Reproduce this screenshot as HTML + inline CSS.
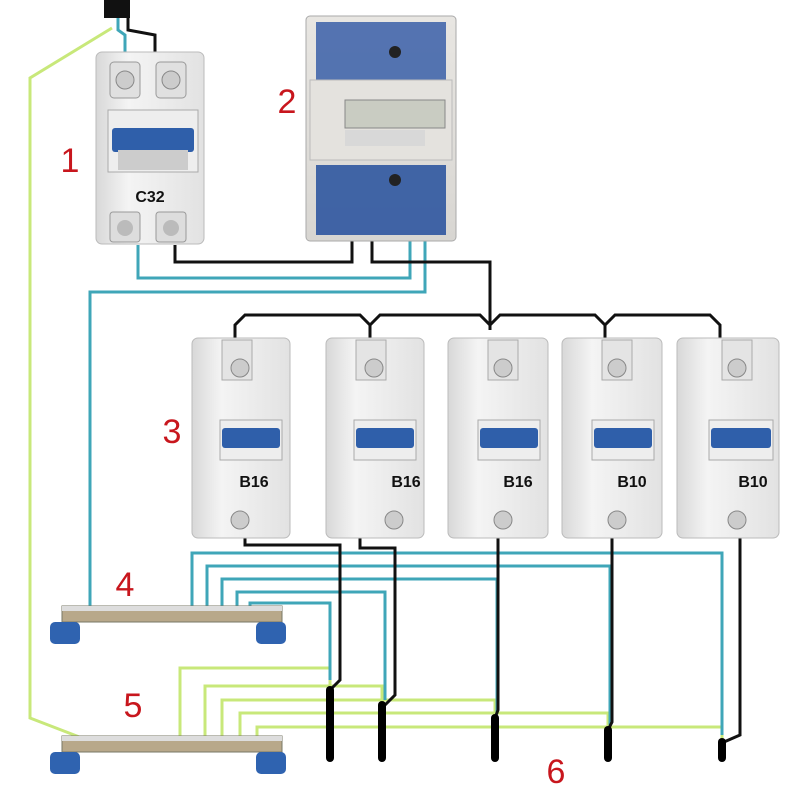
<!DOCTYPE html>
<html><head><meta charset="utf-8"><style>
html,body{margin:0;padding:0;background:#fff;}
svg{display:block;}
text{font-family:"Liberation Sans",sans-serif;}
</style></head><body>
<svg width="800" height="799" viewBox="0 0 800 799" xmlns="http://www.w3.org/2000/svg">
<defs>
<linearGradient id="brk" x1="0" x2="1"><stop offset="0" stop-color="#d8d8d8"/><stop offset="0.3" stop-color="#f4f4f4"/><stop offset="1" stop-color="#e2e2e2"/></linearGradient>
<linearGradient id="met" x1="0" x2="0" y1="0" y2="1"><stop offset="0" stop-color="#e8e6e2"/><stop offset="1" stop-color="#d8d6d2"/></linearGradient>
</defs>
<!-- green PE wire -->
<g fill="none" stroke="#c8e87a" stroke-width="3">
<path d="M112,28 L30,78 L30,718 L82,738"/>
<path d="M180,742 L180,668 L330,668 L330,690"/>
<path d="M205,742 L205,686 L382,686 L382,705"/>
<path d="M222,742 L222,700 L495,700 L495,718"/>
<path d="M240,742 L240,713 L608,713 L608,730"/>
<path d="M257,742 L257,727 L722,727 L722,741"/>
</g>
<!-- cyan N wires -->
<g fill="none" stroke="#3fa6b8" stroke-width="3">
<path d="M118,15 L118,30 L125,35 L125,55"/>
<path d="M138,245 L138,278 L410,278 L410,232"/>
<path d="M90,610 L90,292 L425,292 L425,232"/>
<path d="M192,610 L192,553 L722,553 L722,735"/>
<path d="M207,610 L207,566 L610,566 L610,725"/>
<path d="M222,610 L222,579 L497,579 L497,712"/>
<path d="M237,610 L237,592 L385,592 L385,700"/>
<path d="M250,610 L250,603 L330,603 L330,680"/>
</g>
<!-- black L wires -->
<g fill="none" stroke="#111" stroke-width="3">
<path d="M128,15 L128,30 L155,35 L155,55"/>
<path d="M175,245 L175,262 L352,262 L352,232"/>
<path d="M372,232 L372,262 L490,262 L490,330"/>
<path d="M235,338 L235,325 L245,315 L360,315 L370,325 L380,315 L480,315 L490,325 L500,315 L595,315 L605,325 L615,315 L710,315 L720,325 L720,338"/>
<path d="M370,325 L370,338 M605,325 L605,338"/>
<path d="M245,535 L245,545 L340,545 L340,680 L330,690"/>
<path d="M360,535 L360,548 L395,548 L395,695 L385,705"/>
<path d="M498,535 L498,710 L495,718"/>
<path d="M612,535 L612,722 L608,730"/>
<path d="M740,535 L740,735 L724,742"/>
</g>
<g stroke="#000" stroke-width="8" stroke-linecap="round">
<line x1="330" y1="690" x2="330" y2="758"/>
<line x1="382" y1="705" x2="382" y2="758"/>
<line x1="495" y1="718" x2="495" y2="758"/>
<line x1="608" y1="730" x2="608" y2="758"/>
<line x1="722" y1="742" x2="722" y2="758"/>
</g>
<rect x="104" y="0" width="26" height="18" fill="#111"/>
<!-- breaker 1 -->
<g>
<rect x="96" y="52" width="108" height="192" rx="6" fill="url(#brk)" stroke="#bbb"/>
<rect x="110" y="62" width="30" height="36" rx="4" fill="#e0e0e0" stroke="#999"/>
<rect x="156" y="62" width="30" height="36" rx="4" fill="#e0e0e0" stroke="#999"/>
<circle cx="125" cy="80" r="9" fill="#ccc" stroke="#888"/><circle cx="171" cy="80" r="9" fill="#ccc" stroke="#888"/>
<rect x="108" y="110" width="90" height="62" fill="#eee" stroke="#aaa"/>
<rect x="112" y="128" width="82" height="24" rx="3" fill="#2f5faa"/>
<rect x="118" y="150" width="70" height="20" fill="#ccc"/>
<text x="150" y="202" font-size="16" font-weight="bold" text-anchor="middle" fill="#111">C32</text>
<rect x="110" y="212" width="30" height="30" rx="3" fill="#ddd" stroke="#999"/><rect x="156" y="212" width="30" height="30" rx="3" fill="#ddd" stroke="#999"/>
<circle cx="125" cy="228" r="8" fill="#bbb"/><circle cx="171" cy="228" r="8" fill="#bbb"/>
</g>
<!-- meter 2 -->
<g>
<rect x="306" y="16" width="150" height="225" rx="4" fill="url(#met)" stroke="#aaa"/>
<rect x="316" y="22" width="130" height="58" fill="#3a5fa8" opacity="0.85"/>
<rect x="310" y="80" width="142" height="80" fill="#e4e2de" stroke="#bbb"/>
<rect x="345" y="100" width="100" height="28" fill="#c9ccc2" stroke="#888"/>
<rect x="345" y="130" width="80" height="16" fill="#d8d8d8"/>
<rect x="316" y="165" width="130" height="70" fill="#2f56a0" opacity="0.9"/>
<circle cx="395" cy="52" r="6" fill="#222"/><circle cx="395" cy="180" r="6" fill="#222"/>
</g>
<!-- breakers 3 -->
<g id="b">
</g>
<g font-size="16" font-weight="bold" text-anchor="middle" fill="#111">
<g transform="translate(192,330)"><rect x="0" y="8" width="98" height="200" rx="6" fill="url(#brk)" stroke="#bbb"/><rect x="30" y="10" width="30" height="40" fill="#e4e4e4" stroke="#aaa"/><circle cx="48" cy="38" r="9" fill="#ccc" stroke="#888"/><rect x="28" y="90" width="62" height="40" fill="#eee" stroke="#aaa"/><rect x="30" y="98" width="58" height="20" rx="3" fill="#2f5faa"/><text x="62" y="157">B16</text><circle cx="48" cy="190" r="9" fill="#ccc" stroke="#888"/></g>
<g transform="translate(326,330)"><rect x="0" y="8" width="98" height="200" rx="6" fill="url(#brk)" stroke="#bbb"/><rect x="30" y="10" width="30" height="40" fill="#e4e4e4" stroke="#aaa"/><circle cx="48" cy="38" r="9" fill="#ccc" stroke="#888"/><rect x="28" y="90" width="62" height="40" fill="#eee" stroke="#aaa"/><rect x="30" y="98" width="58" height="20" rx="3" fill="#2f5faa"/><text x="80" y="157">B16</text><circle cx="68" cy="190" r="9" fill="#ccc" stroke="#888"/></g>
<g transform="translate(448,330)"><rect x="0" y="8" width="100" height="200" rx="6" fill="url(#brk)" stroke="#bbb"/><rect x="40" y="10" width="30" height="40" fill="#e4e4e4" stroke="#aaa"/><circle cx="55" cy="38" r="9" fill="#ccc" stroke="#888"/><rect x="30" y="90" width="62" height="40" fill="#eee" stroke="#aaa"/><rect x="32" y="98" width="58" height="20" rx="3" fill="#2f5faa"/><text x="70" y="157">B16</text><circle cx="55" cy="190" r="9" fill="#ccc" stroke="#888"/></g>
<g transform="translate(562,330)"><rect x="0" y="8" width="100" height="200" rx="6" fill="url(#brk)" stroke="#bbb"/><rect x="40" y="10" width="30" height="40" fill="#e4e4e4" stroke="#aaa"/><circle cx="55" cy="38" r="9" fill="#ccc" stroke="#888"/><rect x="30" y="90" width="62" height="40" fill="#eee" stroke="#aaa"/><rect x="32" y="98" width="58" height="20" rx="3" fill="#2f5faa"/><text x="70" y="157">B10</text><circle cx="55" cy="190" r="9" fill="#ccc" stroke="#888"/></g>
<g transform="translate(677,330)"><rect x="0" y="8" width="102" height="200" rx="6" fill="url(#brk)" stroke="#bbb"/><rect x="45" y="10" width="30" height="40" fill="#e4e4e4" stroke="#aaa"/><circle cx="60" cy="38" r="9" fill="#ccc" stroke="#888"/><rect x="32" y="90" width="64" height="40" fill="#eee" stroke="#aaa"/><rect x="34" y="98" width="60" height="20" rx="3" fill="#2f5faa"/><text x="76" y="157">B10</text><circle cx="60" cy="190" r="9" fill="#ccc" stroke="#888"/></g>
</g>
<!-- buses -->
<g>
<rect x="62" y="606" width="220" height="16" fill="#b8a88a" stroke="#776"/>
<rect x="62" y="606" width="220" height="5" fill="#ddd"/>
<rect x="50" y="622" width="30" height="22" rx="5" fill="#2f63b0"/><rect x="256" y="622" width="30" height="22" rx="5" fill="#2f63b0"/>
<rect x="62" y="736" width="220" height="16" fill="#b8a88a" stroke="#776"/>
<rect x="62" y="736" width="220" height="5" fill="#ddd"/>
<rect x="50" y="752" width="30" height="22" rx="5" fill="#2f63b0"/><rect x="256" y="752" width="30" height="22" rx="5" fill="#2f63b0"/>
</g>
<g font-size="34" fill="#c8161d" text-anchor="middle">
<text x="70" y="172">1</text>
<text x="287" y="113">2</text>
<text x="172" y="443">3</text>
<text x="125" y="596">4</text>
<text x="133" y="717">5</text>
<text x="556" y="783">6</text>
</g>
</svg>
</body></html>
